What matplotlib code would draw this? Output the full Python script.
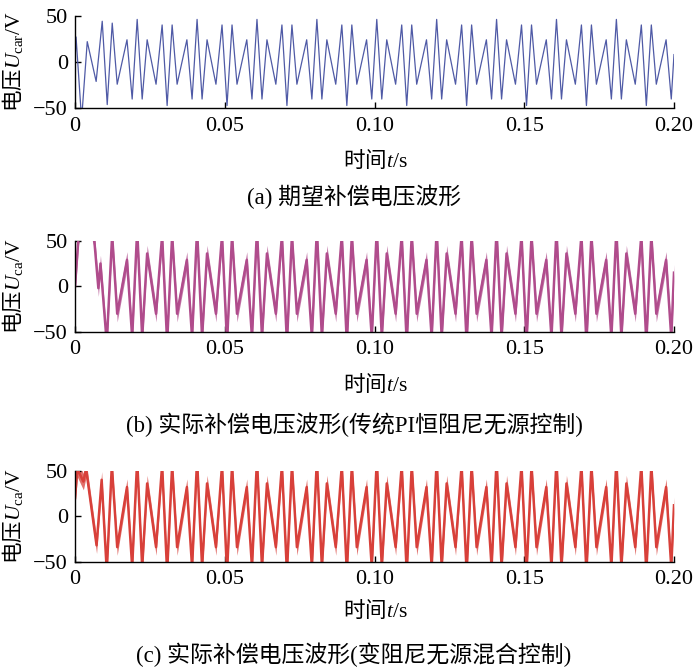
import numpy as np
import matplotlib.pyplot as plt

plt.rcParams['font.family'] = ['Liberation Serif', 'Noto Sans CJK SC']
plt.rcParams['mathtext.fontset'] = 'custom'
plt.rcParams['mathtext.rm'] = 'Liberation Serif'
plt.rcParams['mathtext.it'] = 'Liberation Serif:italic'

# 波形极值点 (时间 ms, 电压 V)
t_a0 = [0.0, 0.35, 2.2, 4.09, 7.06, 9.09, 10.76, 12.43, 14.09, 17.36, 19.09]
u_a0 = [0, 27, -62, 22, -21, 44, -46, 42, -24, 24, -40]
t_b0 = [0.0, 1.2, 3.5, 6.4, 7.8, 8.5, 10.6, 12.4, 14.09, 17.36, 19.09]
u_b0 = [0, 55, 85, 52, -2, 25, -62, 56, -30, 29, -56]
t_c0 = [0.0, 0.8, 2.8, 3.7, 7.2, 8.9, 10.6, 12.3, 14.09, 17.36, 19.09]
u_c0 = [20, 52, 38, 52, -32, 40, -60, 56, -34, 32, -56]

t_ss = [20.76, 22.43, 24.09, 27.06, 29.09, 30.76, 32.43, 34.09, 37.36, 39.09,
        40.76, 42.43, 44.09, 47.06, 49.09, 50.76, 52.43, 54.09, 57.36, 59.09,
        60.76, 62.43, 64.09, 67.06, 69.09, 70.76, 72.43, 74.09, 77.36, 79.09,
        80.76, 82.43, 84.09, 87.06, 89.09, 90.76, 92.43, 94.09, 97.36, 99.09,
        100.76, 102.43, 104.09, 107.06, 109.09, 110.76, 112.43, 114.09, 117.36, 119.09,
        120.76, 122.43, 124.09, 127.06, 129.09, 130.76, 132.43, 134.09, 137.36, 139.09,
        140.76, 142.43, 144.09, 147.06, 149.09, 150.76, 152.43, 154.09, 157.36, 159.09,
        160.76, 162.43, 164.09, 167.06, 169.09, 170.76, 172.43, 174.09, 177.36, 179.09,
        180.76, 182.43, 184.09, 187.06, 189.09, 190.76, 192.43, 194.09, 197.36, 199.09,
        200.0]

u_a_ss = [46, -40, 24, -24, 40, -47, 40, -24, 24, -40,
          46, -40, 24, -24, 40, -47, 40, -24, 24, -40,
          46, -40, 24, -24, 40, -47, 40, -24, 24, -40,
          46, -40, 24, -24, 40, -47, 40, -24, 24, -40,
          46, -40, 24, -24, 40, -47, 40, -24, 24, -40,
          46, -40, 24, -24, 40, -47, 40, -24, 24, -40,
          46, -40, 24, -24, 40, -47, 40, -24, 24, -40,
          46, -40, 24, -24, 40, -47, 40, -24, 24, -40,
          46, -40, 24, -24, 40, -47, 40, -24, 24, -40,
          8]
u_b_ss = [62, -56, 36, -30, 56, -62, 56, -30, 29, -56,
          62, -56, 36, -30, 56, -62, 56, -30, 29, -56,
          62, -56, 36, -30, 56, -62, 56, -30, 29, -56,
          62, -56, 36, -30, 56, -62, 56, -30, 29, -56,
          62, -56, 36, -30, 56, -62, 56, -30, 29, -56,
          62, -56, 36, -30, 56, -62, 56, -30, 29, -56,
          62, -56, 36, -30, 56, -62, 56, -30, 29, -56,
          62, -56, 36, -30, 56, -62, 56, -30, 29, -56,
          62, -56, 36, -30, 56, -62, 56, -30, 29, -56,
          15]
u_c_ss = [62, -56, 36, -34, 56, -62, 56, -34, 32, -56,
          62, -56, 36, -34, 56, -62, 56, -34, 32, -56,
          62, -56, 36, -34, 56, -62, 56, -34, 32, -56,
          62, -56, 36, -34, 56, -62, 56, -34, 32, -56,
          62, -56, 36, -34, 56, -62, 56, -34, 32, -56,
          62, -56, 36, -34, 56, -62, 56, -34, 32, -56,
          62, -56, 36, -34, 56, -62, 56, -34, 32, -56,
          62, -56, 36, -34, 56, -62, 56, -34, 32, -56,
          62, -56, 36, -34, 56, -62, 56, -34, 32, -56,
          12]

x_ticks = [0, 0.05, 0.10, 0.15, 0.20]
x_labels = ['0', '0.05', '0.10', '0.15', '0.20']
y_ticks = [-50, 0, 50]
y_labels = ['\u221250', '0', '50']

ylabels = [r'电压$U_{\mathrm{car}}/\mathrm{V}$', r'电压$U_{\mathrm{ca}}/\mathrm{V}$', r'电压$U_{\mathrm{ca}}/\mathrm{V}$']
captions = ['(a) 期望补偿电压波形',
            '(b) 实际补偿电压波形(传统PI恒阻尼无源控制)',
            '(c) 实际补偿电压波形(变阻尼无源混合控制)']

W, H = 693, 670
fig = plt.figure(figsize=(W / 100, H / 100), dpi=100)

# 各子图位置 (像素): 上边, 下边, xlabel 行, 标题行
rows = [(15.7, 108.3, 160, 197), (240.7, 332.0, 384, 425), (470.7, 561.7, 610, 655)]
colors = ['#4f5aa6', '#b04c8c', '#d8403a']
bands = [0, 9, 9]
series = [(t_a0 + t_ss, u_a0 + u_a_ss), (t_b0 + t_ss, u_b0 + u_b_ss), (t_c0 + t_ss, u_c0 + u_c_ss)]

for i in range(3):
    top, bot, xl_y, cap_y = rows[i]
    ax = fig.add_axes([75 / W, 1 - bot / H, 599 / W, (bot - top) / H])
    t = np.array(series[i][0]) / 1000
    u = np.array(series[i][1], dtype=float)
    if bands[i]:
        ax.fill_between(t, u - bands[i], u + bands[i], color=colors[i], alpha=0.75, lw=0)
        ax.plot(t, u, color=colors[i], lw=1.8)
    else:
        ax.plot(t, u, color=colors[i], lw=0.9)
    ax.set_xlim(0, 0.2)
    ax.set_ylim(-50, 50)
    ax.spines['top'].set_visible(False)
    ax.spines['right'].set_visible(False)
    ax.spines['left'].set_linewidth(1.0)
    ax.spines['bottom'].set_linewidth(1.0)
    ax.set_xticks(x_ticks)
    ax.set_xticklabels(x_labels)
    ax.set_yticks(y_ticks)
    ax.set_yticklabels(y_labels)
    ax.tick_params(direction='in', length=4, width=1.0, labelsize=16)
    ax.tick_params(axis='x', pad=6)
    ax.tick_params(axis='y', pad=5)
    ax.set_ylabel(ylabels[i], fontsize=15.5, fontfamily='Noto Sans CJK SC')
    ax.yaxis.set_label_coords(-0.083, 0.5)
    fig.text(375 / W, 1 - xl_y / H, r'时间$t/\mathrm{s}$', fontsize=15.5,
             fontfamily='Noto Sans CJK SC', ha='center', va='center')
    fig.text(354 / W, 1 - cap_y / H, captions[i], fontsize=16.5, ha='center', va='center')

fig.savefig('out.png', dpi=100)
